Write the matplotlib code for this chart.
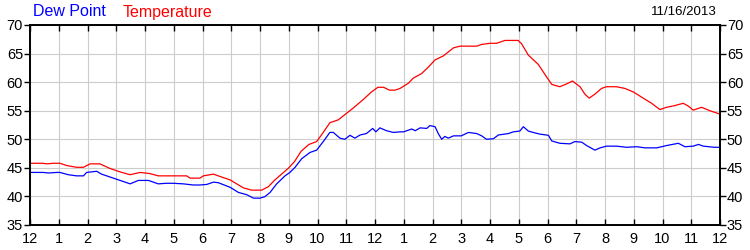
import matplotlib
matplotlib.use("Agg")
import matplotlib.pyplot as plt

# Readings for 11/16/2013, hours since midnight
temp_hours = [0.0, 0.46, 0.58, 0.81, 1.04, 1.28, 1.62, 1.86, 2.09, 2.43, 2.78, 3.13,
              3.48, 3.83, 4.17, 4.46, 5.45, 5.57, 5.91, 6.03, 6.38, 6.72, 6.96, 7.42,
              7.71, 8.06, 8.29, 8.52, 8.75, 9.0, 9.2, 9.43, 9.7, 9.97, 10.2, 10.43,
              10.72, 11.0, 11.25, 11.6, 11.88, 12.1, 12.3, 12.5, 12.7, 12.87, 13.16,
              13.33, 13.62, 13.85, 14.09, 14.38, 14.73, 14.96, 15.54, 15.71, 16.0,
              16.23, 16.52, 16.98, 17.1, 17.33, 17.68, 17.97, 18.15, 18.43, 18.67,
              18.87, 19.13, 19.3, 19.45, 19.65, 19.88, 20.05, 20.4, 20.69, 20.98,
              21.33, 21.62, 21.91, 22.14, 22.43, 22.72, 22.9, 23.07, 23.36, 23.65, 24.0]
temp_vals = [45.8, 45.8, 45.7, 45.8, 45.8, 45.4, 45.1, 45.1, 45.7, 45.7, 44.9, 44.3,
             43.8, 44.2, 44.0, 43.6, 43.6, 43.2, 43.2, 43.6, 43.9, 43.3, 42.9, 41.5,
             41.1, 41.1, 41.7, 42.9, 43.9, 45.0, 46.1, 47.9, 49.1, 49.6, 51.2, 52.9,
             53.4, 54.5, 55.5, 57.0, 58.3, 59.1, 59.1, 58.6, 58.6, 58.9, 59.8,
             60.7, 61.5, 62.6, 63.9, 64.6, 66.0, 66.3, 66.3, 66.6, 66.8,
             66.8, 67.3, 67.3, 66.7, 64.75, 63.1, 60.9, 59.6, 59.2, 59.7,
             60.2, 59.2, 57.9, 57.2, 57.9, 58.9, 59.2, 59.2, 58.9, 58.3,
             57.2, 56.3, 55.2, 55.6, 55.9, 56.3, 55.8, 55.1, 55.6, 55.0, 54.4]

dew_hours = [0.0, 0.46, 0.64, 0.93, 1.04, 1.33, 1.62, 1.86, 1.97, 2.32, 2.49, 2.9,
             3.25, 3.48, 3.77, 4.12, 4.46, 4.75, 4.99, 5.33, 5.68, 5.91, 6.15, 6.38,
             6.55, 6.96, 7.25, 7.54, 7.77, 8.0, 8.17, 8.35, 8.58, 8.87, 9.04, 9.22,
             9.45, 9.74, 9.97, 10.2, 10.43, 10.55, 10.78, 10.95, 11.13, 11.3, 11.48,
             11.7, 11.92, 12.03, 12.17, 12.4, 12.64, 12.87, 12.99, 13.28, 13.4, 13.57,
             13.8, 13.91, 14.09, 14.2, 14.32, 14.43, 14.55, 14.73, 15.0, 15.25, 15.54,
             15.71, 15.88, 16.12, 16.29, 16.64, 16.81, 17.04, 17.16, 17.33, 17.5,
             17.74, 18.03, 18.15, 18.43, 18.78, 18.95, 19.19, 19.36, 19.65, 19.83,
             20.05, 20.4, 20.75, 21.1, 21.39, 21.8, 22.14, 22.55, 22.78, 23.07,
             23.25, 23.42, 23.8, 24.0]
dew_vals = [44.2, 44.2, 44.1, 44.2, 44.2, 43.8, 43.6, 43.6, 44.2, 44.4, 43.9, 43.2,
            42.6, 42.2, 42.8, 42.8, 42.2, 42.3, 42.3, 42.2, 42.0, 42.0, 42.1, 42.5,
            42.4, 41.6, 40.7, 40.3, 39.7, 39.7, 39.96, 40.7, 42.2, 43.6, 44.2, 45.1,
            46.6, 47.7, 48.1, 49.6, 51.2, 51.2, 50.2, 50.0, 50.7, 50.2, 50.75,
            51.0, 51.9, 51.3, 52.0, 51.5, 51.2, 51.3, 51.3, 51.8, 51.5, 52.0,
            51.9, 52.4, 52.2, 51.0, 50.0, 50.5, 50.2, 50.6, 50.6, 51.2, 51.0,
            50.6, 50.0, 50.1, 50.75, 51.0, 51.3, 51.45, 52.2, 51.45, 51.2,
            50.9, 50.7, 49.7, 49.3, 49.2, 49.6, 49.5, 48.9, 48.1, 48.5,
            48.8, 48.8, 48.6, 48.7, 48.5, 48.5, 48.9, 49.3, 48.7, 48.8,
            49.1, 48.8, 48.6, 48.6]

hour_labels = ["12"] + [str(h) for h in range(1, 12)] + ["12"] + [str(h) for h in range(1, 12)] + ["12"]
y_ticks = [35, 40, 45, 50, 55, 60, 65, 70]

plt.rcParams["font.family"] = ["Liberation Sans", "DejaVu Sans"]

fig = plt.figure(figsize=(7.5, 2.5), dpi=100)
ax = fig.add_axes([0.04, 0.1, 0.92, 0.8])

ax.plot(temp_hours, temp_vals, color="#ff0000", lw=0.9)
ax.plot(dew_hours, dew_vals, color="#0000ff", lw=0.9)

ax.set_xlim(0, 24)
ax.set_ylim(35, 70)
ax.set_xticks(range(25))
ax.set_xticklabels(hour_labels)
ax.set_yticks(y_ticks)
ax.grid(True, color="#cccccc", lw=0.8)
ax.set_axisbelow(True)

for s in ax.spines.values():
    s.set_linewidth(1.4)
    s.set_color("black")

ax.tick_params(axis="x", direction="in", top=True, bottom=True, length=4,
               width=1, labelsize=10.5, pad=5)
ax.tick_params(axis="y", direction="out", left=True, right=True, labelright=True,
               length=4, width=1, labelsize=10.5, pad=1)

fig.text(0.044, 0.952, "Dew Point", color="#0000ff", fontsize=11.5, va="center")
fig.text(0.164, 0.952, "Temperature", color="#ff0000", fontsize=11.5, va="center")
fig.text(0.956, 0.952, "11/16/2013", color="black", fontsize=9.5, va="center", ha="right")

fig.savefig("out.png", dpi=100)
